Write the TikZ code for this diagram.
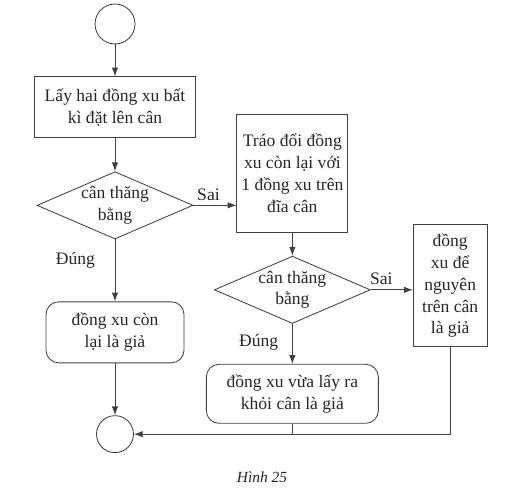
\documentclass[tikz,border=0pt]{standalone}
\usepackage{fontspec}
\setmainfont{Liberation Serif}
\usetikzlibrary{positioning,shapes.geometric,arrows.meta}

\begin{document}
\begin{tikzpicture}[auto, node distance=1cm, line width=0.6pt, draw=black!75,
                    >={Latex[length=2.2mm,width=1.6mm]},
                    every node/.style={font=\fontsize{12.5}{15.5}\selectfont,text=black!85},
                    box node/.style={rectangle,draw=black!75,align=center,inner sep=0pt},
                    round node/.style={box node,rounded corners=9pt},
                    test node/.style={diamond,draw=black!75,align=center,inner sep=0pt,aspect=2.3,
                                      minimum width=3.9cm,minimum height=1.675cm},
                    end node/.style={circle,draw=black!75,inner sep=0pt,minimum size=1cm}]

  \useasboundingbox (0,0) rectangle (13.3,-12.5);

  \node[end node] (start) at (2.875,-0.6) {};
  \node[box node,minimum width=4.025cm,minimum height=1.525cm] (take) [below=0.8cm of start] {Lấy hai đồng xu bất\\kì đặt lên cân};
  \node[test node] (test1) [below=0.825cm of take] {cân thăng\\bằng};
  \node[box node,minimum width=2.775cm,minimum height=2.95cm] (swap) [right=1.075cm of test1,yshift=0.8cm] {Tráo đổi đồng\\xu còn lại với\\1 đồng xu trên\\đĩa cân};
  \node[test node] (test2) [below=0.575cm of swap] {cân thăng\\bằng};
  \node[box node,minimum width=1.85cm,minimum height=3.05cm] (stay) [right=1.05cm of test2,yshift=0.1cm] {đồng\\xu để\\nguyên\\trên cân\\là giả};
  \node[round node,minimum width=3.45cm,minimum height=1.525cm] (rest) [below=1.55cm of test1] {đồng xu còn\\lại là giả};
  \node[round node,minimum width=4.3cm,minimum height=1.475cm] (taken) [below=1cm of test2] {đồng xu vừa lấy ra\\khỏi cân là giả};
  \node[end node,minimum size=0.925cm] (stop) [below=1.3cm of rest] {};
  \node[font=\itshape\fontsize{11}{13}\selectfont] (fig) at (6.55,-11.925) {Hình 25};

\path[->]
    (start) edge (take)
    (take) edge (test1)
    (test1) edge node [pos=0.35] {Sai} (test1 -| swap.west)
    (swap) edge (test2)
    (test2) edge node [pos=0.25] {Sai} (test2 -| stay.west)
    (test1) edge node [pos=0.34,left=0.375cm] {Đúng} (rest)
    (test2) edge node [pos=0.45,left=0.225cm] {Đúng} (taken)
    (rest) edge (stop)
   ;

  \draw[->] (stay) |- (stop);
  \draw (taken) -- (taken.south |- stop);

\end{tikzpicture}
\end{document}
